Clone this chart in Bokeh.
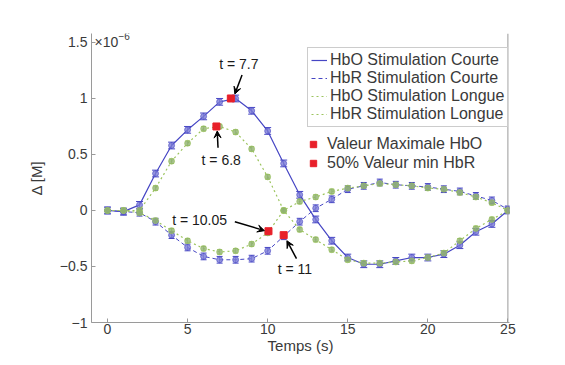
from bokeh.plotting import figure
from bokeh.models import (Range1d, ColumnDataSource, Whisker, TeeHead, Legend, LegendItem,
                          Arrow, VeeHead, Label, Span, FixedTicker)
from bokeh.embed import file_html
from bokeh.resources import INLINE

# ---------------- data (units of 1e-6) ----------------
t = list(range(26))
hbo_courte = [0.00, -0.01, 0.05, 0.33, 0.58, 0.72, 0.84, 0.97, 1.00, 0.89, 0.71, 0.42, 0.14,
              -0.08, -0.27, -0.42, -0.48, -0.48, -0.45, -0.42, -0.42, -0.39, -0.31, -0.19, -0.12, 0.00]
hbr_courte = [0.00, -0.01, -0.02, -0.10, -0.22, -0.33, -0.41, -0.44, -0.44, -0.43, -0.36, -0.23, -0.10,
              0.02, 0.10, 0.19, 0.22, 0.25, 0.23, 0.22, 0.21, 0.19, 0.17, 0.13, 0.09, 0.01]
hbo_longue = [0.00, 0.00, 0.00, 0.20, 0.44, 0.60, 0.73, 0.75, 0.70, 0.55, 0.30, 0.00, -0.17,
              -0.26, -0.35, -0.44, -0.47, -0.47, -0.46, -0.45, -0.42, -0.38, -0.27, -0.16, -0.08, 0.00]
hbr_longue = [0.00, 0.00, -0.02, -0.09, -0.18, -0.27, -0.34, -0.37, -0.36, -0.30, -0.20, 0.00, 0.08,
              0.12, 0.17, 0.20, 0.22, 0.24, 0.23, 0.22, 0.20, 0.19, 0.16, 0.12, 0.07, 0.00]
err_courte = 0.03
err_longue = 0.02

series_names = ["HbO Stimulation Courte", "HbR Stimulation Courte",
                "HbO Stimulation Longue", "HbR Stimulation Longue"]

ann_t = [7.7, 6.8, 10.05, 11]
ann_y = [1.00, 0.75, -0.185, -0.22]
ann_text = ["t = 7.7", "t = 6.8", "t = 10.05", "t = 11"]
ann_kind = ["Valeur Maximale HbO", "Valeur Maximale HbO", "50% Valeur min HbR", "50% Valeur min HbR"]

y_ticks = [-1, -0.5, 0, 0.5, 1, 1.5]
y_tick_labels = ["\u22121", "\u22120.5", "0", "0.5", "1", "1.5"]
x_ticks = [0, 5, 10, 15, 20, 25]

# ---------------- layout / style ----------------
FONT = "Liberation Sans"
BLUE = "#4646c4"
BLUE_M = "#7c7cd6"
GREEN = "#9cc45e"
GREEN_M = "#8fb070"
RED = "#e8202a"
AXC = "#9a9a9a"
TXT = "#3a3a3a"

p = figure(width=556, height=356, output_backend="svg", toolbar_location=None,
           x_range=Range1d(-1, 25.1), y_range=Range1d(-1.0, 1.58),
           min_border_left=91, min_border_right=47, min_border_top=33, min_border_bottom=0)
p.outline_line_color = None
p.grid.visible = False
p.background_fill_color = "white"

for ax in (p.xaxis[0], p.yaxis[0]):
    ax.axis_line_color = AXC
    ax.major_tick_line_color = AXC
    ax.major_tick_in = 4
    ax.major_tick_out = 0
    ax.minor_tick_line_color = None
    ax.major_label_text_font = FONT
    ax.major_label_text_font_size = "14px"
    ax.major_label_text_color = TXT
    ax.axis_label_text_font = FONT
    ax.axis_label_text_font_size = "15px"
    ax.axis_label_text_font_style = "normal"
    ax.axis_label_text_color = TXT

p.xaxis.ticker = FixedTicker(ticks=x_ticks)
p.xaxis.major_label_standoff = 1
p.xaxis.axis_label = "Temps (s)"
p.xaxis.axis_label_standoff = 0
p.yaxis.ticker = FixedTicker(ticks=y_ticks)
p.yaxis.major_label_overrides = {tk: lb for tk, lb in zip(y_ticks, y_tick_labels)}
p.yaxis.major_label_standoff = 4
p.yaxis.axis_label = "\u0394 [M]"
p.yaxis.axis_label_standoff = 12

p.add_layout(Span(location=25, dimension="height", line_color=AXC, line_width=1))

# exponent label next to the top tick label
p.add_layout(Label(x=-1, y=1.5, x_offset=3, y_offset=0, text="\u00d710",
                   text_baseline="middle", text_font=FONT, text_font_size="14px", text_color=TXT))
p.add_layout(Label(x=-1, y=1.5, x_offset=27, y_offset=6, text="\u22126",
                   text_baseline="middle", text_font=FONT, text_font_size="10px", text_color=TXT))

src = ColumnDataSource(dict(
    t=t,
    hbo_c=hbo_courte, hbr_c=hbr_courte, hbo_l=hbo_longue, hbr_l=hbr_longue,
    hbo_c_lo=[v - err_courte for v in hbo_courte], hbo_c_hi=[v + err_courte for v in hbo_courte],
    hbr_c_lo=[v - err_courte for v in hbr_courte], hbr_c_hi=[v + err_courte for v in hbr_courte],
    hbo_l_lo=[v - err_longue for v in hbo_longue], hbo_l_hi=[v + err_longue for v in hbo_longue],
    hbr_l_lo=[v - err_longue for v in hbr_longue], hbr_l_hi=[v + err_longue for v in hbr_longue],
))

specs = [
    ("hbo_c", BLUE, BLUE_M, "solid", 1.2, 7),
    ("hbr_c", BLUE, BLUE_M, "4 3", 1.0, 6),
    ("hbo_l", GREEN, GREEN_M, "2 3", 1.2, 5),
    ("hbr_l", GREEN, GREEN_M, "2 3", 1.2, 5),
]
legend_items = []
for (key, lc, mc, dash, lw, head), name in zip(specs, series_names):
    w = Whisker(base="t", lower=key + "_lo", upper=key + "_hi", source=src,
                line_color=lc, line_width=1, line_alpha=0.8,
                upper_head=TeeHead(size=head, line_color=lc, line_width=1),
                lower_head=TeeHead(size=head, line_color=lc, line_width=1))
    p.add_layout(w)
    ln = p.line("t", key, source=src, line_color=lc, line_width=lw, line_dash=dash)
    p.scatter("t", key, source=src, marker="circle", size=6,
              fill_color=mc, fill_alpha=0.8, line_color=lc, line_alpha=0.6)
    legend_items.append(LegendItem(label=name, renderers=[ln]))

# annotated points
ann_src = ColumnDataSource(dict(t=ann_t, y=ann_y, kind=ann_kind))
red = p.scatter("t", "y", source=ann_src, marker="square", size=7,
                fill_color=RED, line_color=RED)

# annotation layout offsets (data units): text, arrow start, arrow end
txt_off = [(0.5, 0.31), (0.3, -0.30), (-4.3, 0.10), (0.7, -0.30)]
arr_start = [(0.7, 0.21), (0.1, -0.19), (-2.1, 0.085), (0.8, -0.21)]
arr_end = [(0.25, 0.04), (0.05, -0.04), (-0.25, 0.005), (0.2, -0.05)]
for tt, yy, lbl, to, a0, a1 in zip(ann_t, ann_y, ann_text, txt_off, arr_start, arr_end):
    p.add_layout(Arrow(x_start=tt + a0[0], y_start=yy + a0[1], x_end=tt + a1[0], y_end=yy + a1[1],
                       line_color="black", line_width=1.5,
                       end=VeeHead(size=7, fill_color="black", line_color="black")))
    p.add_layout(Label(x=tt + to[0], y=yy + to[1], text=lbl, text_align="center",
                       text_baseline="middle", text_font=FONT, text_font_size="14px",
                       text_color="#1a1a1a"))

leg1 = Legend(items=legend_items, location=(216, 195), margin=0, padding=3,
              border_line_color=AXC, border_line_width=1,
              label_text_font=FONT, label_text_font_size="16px", label_text_color=TXT,
              label_height=18, glyph_height=18, glyph_width=16, spacing=0, label_standoff=3,
              background_fill_color="white", background_fill_alpha=1)
p.add_layout(leg1)

leg2 = Legend(items=[LegendItem(label=ann_kind[0], renderers=[red], index=0),
                     LegendItem(label=ann_kind[2], renderers=[red], index=2)],
              location=(212, 148), margin=0, padding=2, border_line_alpha=0,
              label_text_font=FONT, label_text_font_size="16px", label_text_color=TXT,
              label_height=18, glyph_height=18, glyph_width=16, spacing=1, label_standoff=6,
              background_fill_alpha=0)
p.add_layout(leg2)

open("out.html", "w").write(file_html(p, INLINE))
